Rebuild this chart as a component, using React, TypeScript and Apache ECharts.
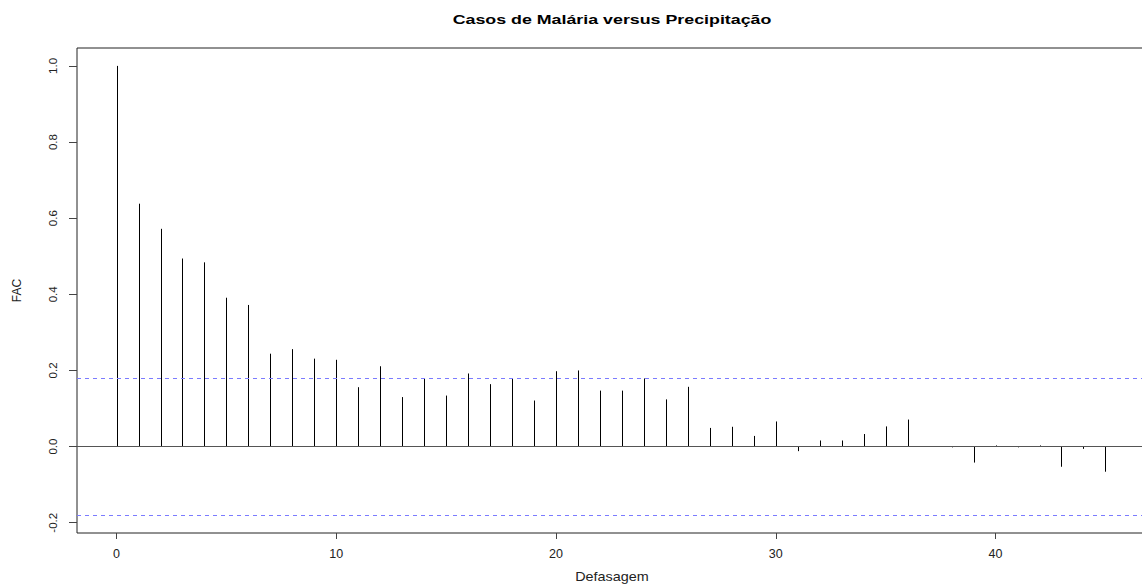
import React, { useEffect, useRef } from "react";
import * as echarts from "echarts";

const title = "Casos de Malária versus Precipitação";
const xName = "Defasagem";
const yName = "FAC";
const lags = [0, 1, 2, 3, 4, 5, 6, 7, 8, 9, 10, 11, 12, 13, 14, 15, 16, 17, 18, 19, 20, 21, 22, 23, 24, 25, 26, 27, 28, 29, 30, 31, 32, 33, 34, 35, 36, 37, 38, 39, 40, 41, 42, 43, 44, 45];
const acf = [1.0, 0.638, 0.572, 0.494, 0.484, 0.391, 0.372, 0.244, 0.256, 0.231, 0.228, 0.156, 0.211, 0.130, 0.180, 0.134, 0.192, 0.164, 0.180, 0.121, 0.198, 0.200, 0.147, 0.147, 0.179, 0.124, 0.157, 0.049, 0.052, 0.028, 0.066, -0.012, 0.016, 0.016, 0.033, 0.053, 0.071, 0.001, -0.002, -0.042, 0.003, -0.002, 0.003, -0.053, -0.006, -0.066];
const ciBound = 0.179;
const xTicks = [0, 10, 20, 30, 40];
const yTicks = [-0.2, 0, 0.2, 0.4, 0.6, 0.8, 1.0];

export default function App() {
  const ref = useRef<HTMLDivElement>(null);
  useEffect(() => {
    if (!ref.current) return;
    const chart = echarts.init(ref.current, null, { renderer: "svg" });
    const font = "'Liberation Sans', Arial, sans-serif";
    chart.setOption({
      animation: false,
      backgroundColor: "#fff",
      graphic: [
        {
          type: "text",
          x: 612,
          y: 19,
          scaleX: 1.32,
          silent: true,
          style: {
            text: title,
            fontFamily: font,
            fontSize: 13.5,
            fontWeight: "bold",
            fill: "#000",
            align: "center",
            verticalAlign: "middle",
          },
        },
        {
          type: "text",
          x: 612,
          y: 577,
          scaleX: 1.2,
          silent: true,
          style: {
            text: xName,
            fontFamily: font,
            fontSize: 12,
            fill: "#222",
            align: "center",
            verticalAlign: "middle",
          },
        },
      ],
      grid: {
        left: 77,
        top: 48,
        width: 1068,
        height: 485,
        show: true,
        borderColor: "#222",
        borderWidth: 1,
        backgroundColor: "transparent",
        outerBoundsMode: "none",
        containLabel: false,
      },
      xAxis: {
        type: "value",
        min: -1.8,
        max: 46.8,
        axisLine: { show: false, onZero: false },
        axisTick: { show: true, length: 6, customValues: xTicks, lineStyle: { color: "#444" } },
        axisLabel: {
          customValues: xTicks,
          margin: 14,
          fontFamily: font,
          fontSize: 12.5,
          color: "#222",
        },
        splitLine: { show: false },
      },
      yAxis: {
        type: "value",
        min: -0.227,
        max: 1.047,
        name: yName,
        nameLocation: "middle",
        nameGap: 54,
        nameRotate: 90,
        nameTextStyle: { fontFamily: font, fontSize: 12, color: "#222" },
        axisLine: { show: false, onZero: false },
        axisTick: { show: true, length: 8, customValues: yTicks, lineStyle: { color: "#444" } },
        axisLabel: {
          customValues: yTicks,
          rotate: 90,
          margin: 18,
          fontFamily: font,
          fontSize: 11.5,
          color: "#222",
          formatter: (v: number) => v.toFixed(1),
        },
        splitLine: { show: false },
      },
      series: [
        {
          type: "custom",
          silent: true,
          data: lags.map((l, i) => [l, acf[i]]),
          renderItem: (params: any, api: any) => {
            const x = api.value(0);
            const y = api.value(1);
            const p0 = api.coord([x, 0]);
            const p1 = api.coord([x, y]);
            const px = Math.round(p0[0]) + 0.5;
            return {
              type: "line",
              shape: { x1: px, y1: p0[1], x2: px, y2: p1[1] },
              style: { stroke: "#000", lineWidth: 1 },
            };
          },
          markLine: {
            silent: true,
            symbol: "none",
            label: { show: false },
            data: [
              { yAxis: 0, lineStyle: { color: "#555", type: "solid", width: 1 } },
              { yAxis: ciBound, lineStyle: { color: "#7b7bff", type: [4, 4], width: 1 } },
              { yAxis: -ciBound, lineStyle: { color: "#7b7bff", type: [4, 4], width: 1 } },
            ],
          },
        },
      ],
    });
    return () => chart.dispose();
  }, []);
  return (
    <div
      ref={ref}
      style={{ position: "fixed", left: 0, top: 0, width: 1142, height: 587, background: "#fff" }}
    />
  );
}
